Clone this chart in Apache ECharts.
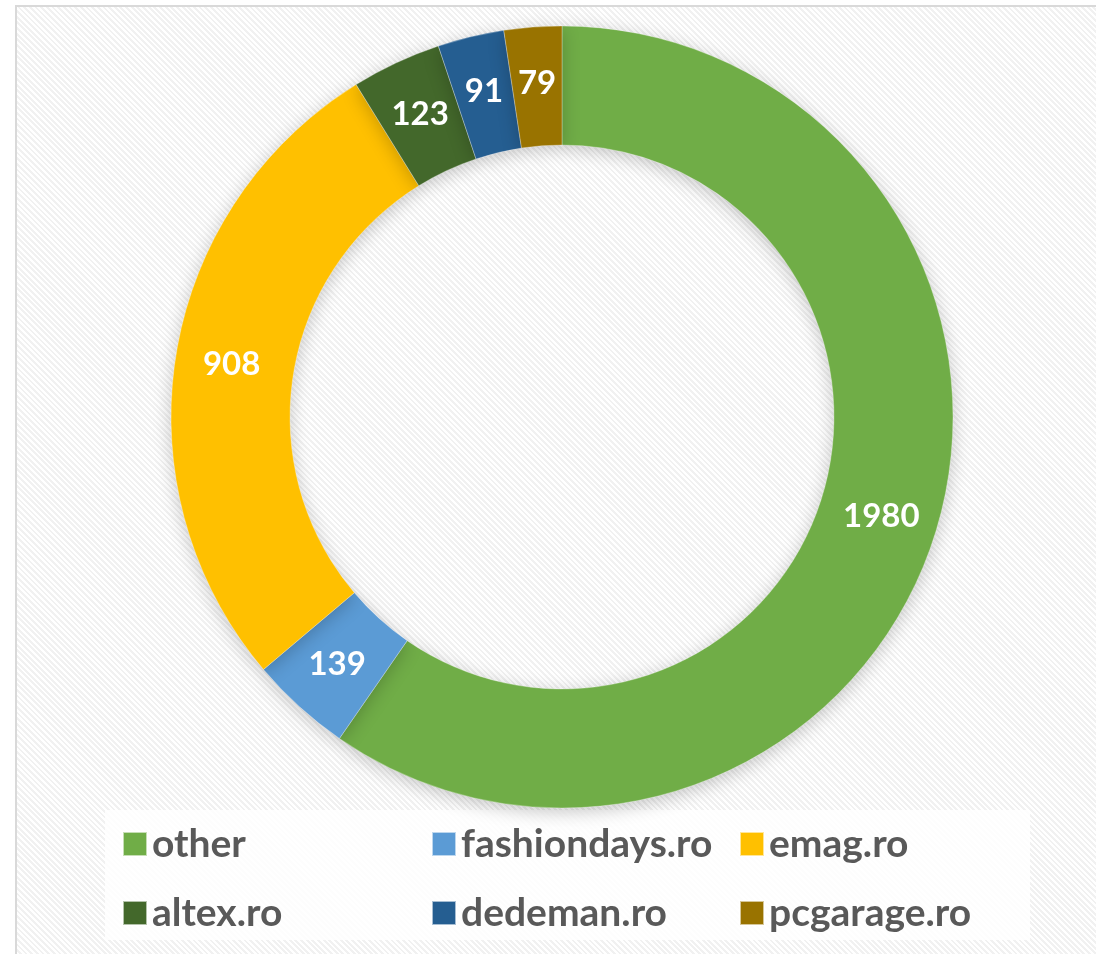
<!DOCTYPE html>
<html>
<head>
<meta charset="utf-8">
<script src="https://cdn.jsdelivr.net/npm/echarts@6/dist/echarts.min.js"></script>
<style>
  html, body { margin: 0; padding: 0; background: #fff; }
  #bg {
    position: absolute; left: 15px; top: 5px; width: 1100px; height: 970px;
    border-left: 2px solid #d9d9d9; border-top: 2px solid #d9d9d9;
    background: repeating-linear-gradient(45deg, #ffffff 0px, #ffffff 2px, #f1f1f1 2px, #f1f1f1 4px);
  }
  #chart { position: absolute; left: 0; top: 0; width: 1096px; height: 954px; }
</style>
</head>
<body>
<div id="bg"></div>
<div id="chart"></div>
<script>
// data
const categories = ['other', 'fashiondays.ro', 'emag.ro', 'altex.ro', 'dedeman.ro', 'pcgarage.ro'];
const values = [1980, 139, 908, 123, 91, 79];
const colors = ['#70AD47', '#5B9BD5', '#FFC000', '#43682B', '#255E91', '#997300'];

const chart = echarts.init(document.getElementById('chart'));

const legendText = {
    color: '#595959',
    fontSize: 39,
    lineHeight: 40,
    fontWeight: 'bold',
    fontFamily: 'Lato'
};

// three legend columns, two rows each
const legendCol = (names, left) => ({
    orient: 'vertical',
    left: left,
    top: 819,
    itemWidth: 24,
    itemHeight: 24,
    itemGap: 29,
    icon: 'rect',
    selectedMode: false,
    textStyle: legendText,
    data: names
});

const option = {
    animation: false,
    color: colors,
    graphic: [{
        type: 'rect',
        shape: { x: 105, y: 810, width: 925, height: 130 },
        style: { fill: 'rgba(255,255,255,0.85)' },
        z: -1
    }],
    legend: [
        legendCol([categories[0], categories[3]], 117),
        legendCol([categories[1], categories[4]], 426),
        legendCol([categories[2], categories[5]], 734)
    ],
    series: [{
        type: 'pie',
        center: [562, 417],
        radius: [272, 391],
        startAngle: 90,
        clockwise: true,
        avoidLabelOverlap: false,
        itemStyle: {
            borderColor: 'rgba(255,255,255,0.6)',
            borderWidth: 0.5,
            shadowBlur: 18,
            shadowColor: 'rgba(0,0,0,0.22)',
            shadowOffsetY: 4
        },
        label: {
            show: true,
            position: 'inside',
            formatter: '{c}',
            color: '#fff',
            fontSize: 33,
            fontWeight: 'bold',
            fontFamily: 'Lato'
        },
        labelLine: { show: false },
        emphasis: { disabled: true },
        data: categories.map((name, i) => ({ name: name, value: values[i] }))
    }]
};

chart.setOption(option);
</script>
</body>
</html>
